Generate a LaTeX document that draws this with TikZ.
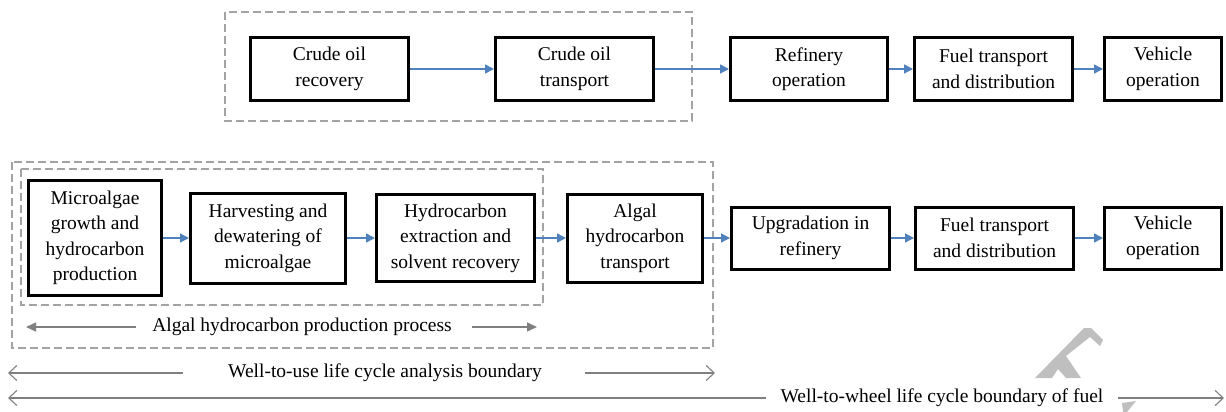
\documentclass[tikz,border=0pt]{standalone}
\usepackage{fontspec}
\setmainfont{Liberation Serif}
\usetikzlibrary{arrows.meta}
\definecolor{flowblue}{HTML}{4F81BD}
\definecolor{bndgray}{HTML}{A3A3A3}
\definecolor{lblgray}{HTML}{7F7F7F}
\definecolor{markgray}{HTML}{BFBFBF}
\tikzset{
  stage/.style={draw=black, line width=3pt, align=center, inner sep=0pt,
    font=\fontsize{19.5}{25.5}\selectfont},
  flow/.style={draw=flowblue, line width=1.4pt, -{Triangle[length=9pt,width=9pt]}},
  bnd/.style={draw=bndgray, line width=2.8pt, dash pattern=on 8pt off 4pt},
  lbl/.style={inner sep=0pt, font=\fontsize{19.5}{24}\selectfont},
  procarrow/.style={draw=lblgray, line width=1.3pt, -{Triangle[length=10pt,width=9pt]}},
  lcarrow/.style={draw=lblgray, line width=1.1pt, -{Straight Barb[length=8pt,width=15pt,line width=1.1pt]}}
}
\begin{document}
\begin{tikzpicture}[x=1pt,y=-1pt]
\useasboundingbox (0,0) rectangle (1226,412);

% conventional crude pathway
\draw[bnd] (225,12) rectangle (692,121);
\node[stage, minimum width=158, minimum height=62] (cr) at (329.5,69) {Crude oil\\recovery};
\node[stage, minimum width=158, minimum height=62] (ct) at (574.5,69) {Crude oil\\transport};
\node[stage, minimum width=157, minimum height=62] (ro) at (809,69) {Refinery\\operation};
\node[stage, minimum width=158, minimum height=62] (ftA) at (993.5,69) {Fuel transport\\and distribution};
\node[stage, minimum width=117, minimum height=62] (voA) at (1163,69) {Vehicle\\operation};
\draw[flow] (cr) -- (ct);
\draw[flow] (ct) -- (ro);
\draw[flow] (ro) -- (ftA);
\draw[flow] (ftA) -- (voA);

% algal hydrocarbon pathway
\draw[bnd] (12,162) rectangle (713,348);
\draw[bnd] (21,169) rectangle (543,305);
\node[stage, minimum width=133, minimum height=115] (mg) at (95,238) {Microalgae\\growth and\\hydrocarbon\\production};
\node[stage, minimum width=155, minimum height=90] (hd) at (268,238) {Harvesting and\\dewatering of\\microalgae};
\node[stage, minimum width=158, minimum height=87] (he) at (455.5,238) {Hydrocarbon\\extraction and\\solvent recovery};
\node[stage, minimum width=135, minimum height=88] (at) at (635,238) {Algal\\hydrocarbon\\transport};
\node[stage, minimum width=158, minimum height=62] (ur) at (810.5,238) {Upgradation in\\refinery};
\node[stage, minimum width=158, minimum height=62] (ftB) at (994.5,238) {Fuel transport\\and distribution};
\node[stage, minimum width=117, minimum height=62] (voB) at (1163,238) {Vehicle\\operation};
\draw[flow] (mg) -- (hd);
\draw[flow] (hd) -- (he);
\draw[flow] (he) -- (at);
\draw[flow] (at) -- (ur);
\draw[flow] (ur) -- (ftB);
\draw[flow] (ftB) -- (voB);

% process and boundary labels
\node[lbl] (ahp) at (302,327) {Algal hydrocarbon production process};
\coordinate (ahpL) at (26,327);
\coordinate (ahpR) at (537,327);
\draw[procarrow] ([xshift=-16pt]ahp.west) -- (ahpL);
\draw[procarrow] ([xshift=20pt]ahp.east) -- (ahpR);

\node[lbl] (wtu) at (385,373) {Well-to-use life cycle analysis boundary};
\coordinate (wtuL) at (8,373);
\coordinate (wtuR) at (715,373);
\draw[lcarrow] ([xshift=-45pt]wtu.west) -- (wtuL);
\draw[lcarrow] ([xshift=43pt]wtu.east) -- (wtuR);

% faint mark behind the lower label
\fill[markgray] (1035,378) -- (1084,328) -- (1091,328) -- (1103,340) -- (1100,346)
  -- (1090,337) -- (1066,356) -- (1081,378) -- (1066,378) -- (1058,369) -- (1052,378) -- cycle;
\fill[markgray] (1122,403) -- (1136,401) -- (1127,412) -- (1123,412) -- cycle;

\node[lbl] (wtw) at (942,398) {Well-to-wheel life cycle boundary of fuel};
\coordinate (wtwL) at (8,398);
\coordinate (wtwR) at (1224,398);
\draw[lcarrow] ([xshift=-14pt]wtw.west) -- (wtwL);
\draw[lcarrow] ([xshift=14pt]wtw.east) -- (wtwR);
\end{tikzpicture}
\end{document}
